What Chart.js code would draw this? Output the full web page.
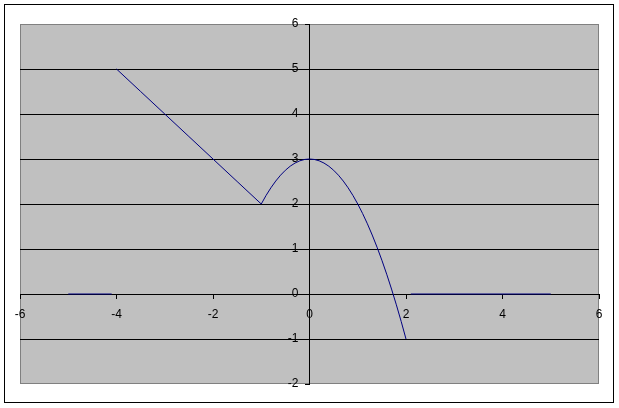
<!DOCTYPE html>
<html>
<head>
<meta charset="utf-8">
<script src="https://cdn.jsdelivr.net/npm/chart.js@4/dist/chart.umd.min.js"></script>
<style>
html,body{margin:0;padding:0;background:#fff;}
canvas{display:block;}
</style>
</head>
<body>
<canvas id="c" width="619" height="408"></canvas>
<script>
// Data
const leftFlatX = [-5, -4.1];
const leftFlatY = [0, 0];
const slopeX = [-4, -3.5, -3, -2.5, -2, -1.5, -1];
const slopeY = [5, 4.5, 4, 3.5, 3, 2.5, 2];
const curveX = [-1, -0.9, -0.8, -0.7, -0.6, -0.5, -0.4, -0.3, -0.2, -0.1, 0, 0.1, 0.2, 0.3, 0.4, 0.5, 0.6, 0.7, 0.8, 0.9, 1, 1.1, 1.2, 1.3, 1.4, 1.5, 1.6, 1.7, 1.8, 1.9, 2];
const curveY = [2, 2.19, 2.36, 2.51, 2.64, 2.75, 2.84, 2.91, 2.96, 2.99, 3, 2.99, 2.96, 2.91, 2.84, 2.75, 2.64, 2.51, 2.36, 2.19, 2, 1.79, 1.56, 1.31, 1.04, 0.75, 0.44, 0.11, -0.24, -0.61, -1];
const rightFlatX = [2.1, 5];
const rightFlatY = [0, 0];
const xTicks = [-6, -4, -2, 0, 2, 4, 6];
const yTicks = [-2, -1, 0, 1, 2, 3, 4, 5, 6];

function pts(xs, ys) { return xs.map((x, i) => ({x: x, y: ys[i]})); }
function ds(xs, ys) {
  return {data: pts(xs, ys), showLine: true, borderColor: '#000080', borderWidth: 1,
          pointRadius: 0, pointHoverRadius: 0, fill: false, tension: 0};
}

const framePlugin = {
  id: 'frame',
  beforeDraw(chart) {
    const ctx = chart.ctx, a = chart.chartArea;
    // place y tick labels to the left of the centred y axis
    const ys = chart.scales.y;
    const x0 = chart.scales.x.getPixelForValue(0);
    ys.getLabelItems().forEach(it => {
      it.options.textAlign = 'right';
      it.options.textBaseline = 'middle';
      it.options.translation = [x0 - 11, ys.getPixelForValue(Number(it.label))];
      it.textOffset = 0;
    });
    ctx.save();
    ctx.fillStyle = '#ffffff';
    ctx.fillRect(0, 0, chart.width, chart.height);
    ctx.strokeStyle = '#000000';
    ctx.lineWidth = 1;
    ctx.strokeRect(4.5, 4.5, 609, 398);
    ctx.fillStyle = '#c0c0c0';
    ctx.fillRect(a.left, a.top, a.right - a.left, a.bottom - a.top);
    ctx.strokeStyle = '#808080';
    ctx.strokeRect(a.left + 0.5, a.top + 0.5, a.right - a.left - 1, a.bottom - a.top - 1);
    ctx.restore();
  }
};

new Chart(document.getElementById('c'), {
  type: 'scatter',
  data: { datasets: [ds(leftFlatX, leftFlatY), ds(slopeX, slopeY), ds(curveX, curveY), ds(rightFlatX, rightFlatY)] },
  options: {
    responsive: false,
    animation: false,
    events: [],
    layout: { padding: { left: 20, top: 24, right: 20, bottom: 24 } },
    plugins: { legend: { display: false }, tooltip: { enabled: false } },
    scales: {
      x: {
        type: 'linear', position: { y: 0 }, min: -6, max: 6,
        afterBuildTicks(s) { s.ticks = xTicks.map(v => ({value: v})); },
        grid: { drawOnChartArea: false, drawTicks: true, tickLength: 4, color: '#000', tickColor: '#000' },
        border: { display: true, color: '#000', width: 1 },
        ticks: { color: '#000', font: { family: 'Liberation Sans', size: 12 }, padding: 9, maxRotation: 0, autoSkip: false }
      },
      y: {
        type: 'linear', position: { x: 0 }, min: -2, max: 6,
        afterBuildTicks(s) { s.ticks = yTicks.map(v => ({value: v})); },
        grid: { drawOnChartArea: true, drawTicks: true, tickLength: 4,
                color: c => (c.tick && (c.tick.value === 6 || c.tick.value === -2)) ? 'rgba(0,0,0,0)' : '#000',
                tickColor: '#000' },
        border: { display: true, color: '#000', width: 1 },
        ticks: { color: '#000', font: { family: 'Liberation Sans', size: 12 }, padding: 8, autoSkip: false }
      }
    }
  },
  plugins: [framePlugin]
});
</script>
</body>
</html>
